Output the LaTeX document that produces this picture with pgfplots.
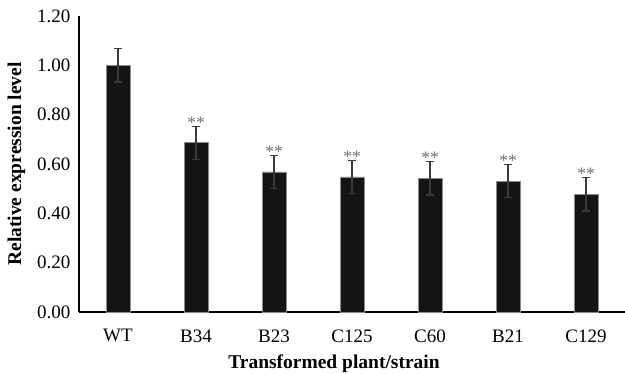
\documentclass[border=0pt]{standalone}
\usepackage{pgfplots}
\pgfplotsset{compat=1.18}
\usepackage{fontspec}
\setmainfont{Liberation Serif}
\definecolor{barfill}{HTML}{141414}
\definecolor{baredge}{HTML}{8A8A8A}
\definecolor{errc}{HTML}{3A3A3A}
\definecolor{starc}{HTML}{707070}
\begin{document}
\begin{tikzpicture}
\begin{axis}[
  scale only axis,
  width=546pt, height=296pt,
  xmin=-0.5, xmax=6.5,
  ymin=0, ymax=1.2,
  axis x line*=bottom, axis y line*=left,
  axis line style={line width=1.5pt, black},
  major tick length=0pt,
  xtick={0,1,2,3,4,5,6},
  xticklabels={WT,B34,B23,C125,C60,B21,C129},
  ytick={0,0.2,0.4,0.6,0.8,1.0,1.2},
  /pgf/number format/assume math mode=true,
  yticklabel={\pgfmathprintnumber[fixed, fixed zerofill, precision=2]{\tick}},
  ticklabel style={font=\fontsize{19}{22}\selectfont, text=black},
  xticklabel style={yshift=-14pt},
  yticklabel style={xshift=-5pt},
  xlabel={\textbf{Transformed plant/strain}},
  ylabel={\textbf{Relative expression level}},
  label style={font=\fontsize{19.5}{22}\selectfont},
  xlabel style={yshift=-6pt, xshift=-18pt},
  ylabel style={yshift=5pt},
  clip=false,
]
\addplot[ybar, bar width=24pt, fill=barfill, draw=baredge, line width=0.6pt,
  error bars/.cd, y dir=both, y explicit,
  error bar style={line width=1.3pt, color=errc},
  error mark options={rotate=90, mark size=4pt, line width=1.3pt, color=errc}]
  coordinates {
  (0,1.000) +- (0,0.067)
  (1,0.686) +- (0,0.067)
  (2,0.568) +- (0,0.067)
  (3,0.548) +- (0,0.067)
  (4,0.542) +- (0,0.068)
  (5,0.531) +- (0,0.068)
  (6,0.478) +- (0,0.068)
  };
\addplot[draw=none, mark=none, nodes near coords={**},
  every node near coord/.style={anchor=south, inner sep=0pt, yshift=-2pt, text=starc, font=\fontsize{17.5}{18}\selectfont}]
  coordinates {(1,0.753) (2,0.635) (3,0.615) (4,0.610) (5,0.599) (6,0.546)};
\coordinate (SW) at (rel axis cs:0,0);
\coordinate (NE) at (rel axis cs:1,1);
\end{axis}
\pgfresetboundingbox
\path[use as bounding box] ([xshift=-79pt,yshift=-61pt]SW) rectangle ([yshift=16pt]NE);
\end{tikzpicture}
\end{document}
